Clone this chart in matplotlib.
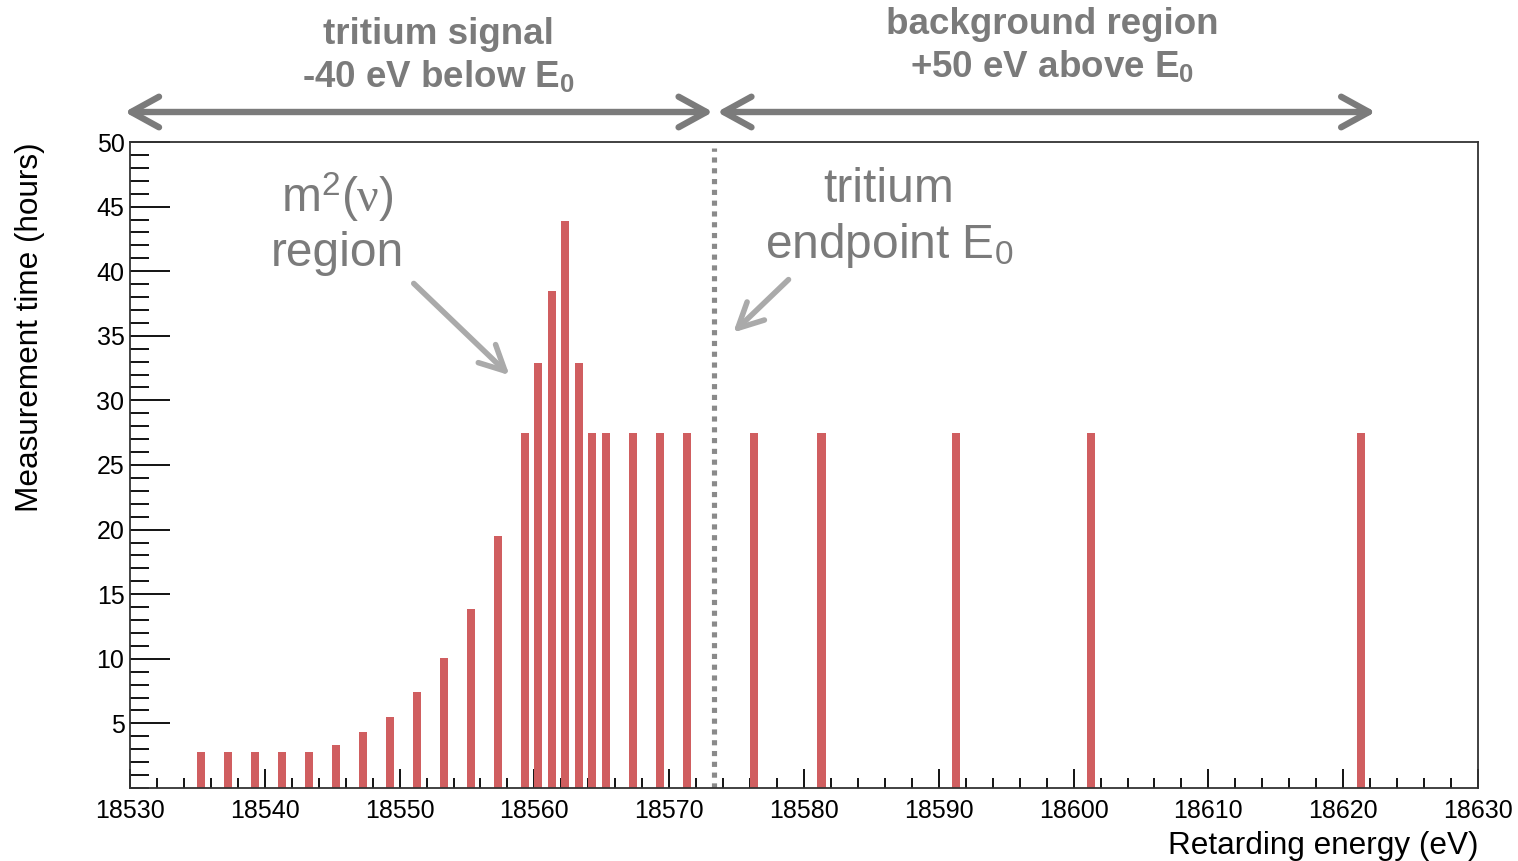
import matplotlib
matplotlib.use("Agg")
import matplotlib.pyplot as plt
from matplotlib.ticker import MultipleLocator

# Retarding energies of the scan steps (eV) and time spent at each (hours)
energies = [18535.3, 18537.3, 18539.3, 18541.3, 18543.3, 18545.3, 18547.3,
            18549.3, 18551.3, 18553.3, 18555.3, 18557.3, 18559.3, 18560.3,
            18561.3, 18562.3, 18563.3, 18564.3, 18565.3, 18567.3, 18569.3,
            18571.3, 18576.3, 18581.3, 18591.3, 18601.3, 18621.3]
hours = [2.76, 2.76, 2.76, 2.76, 2.76, 3.3, 4.3, 5.5, 7.45, 10.05, 13.85,
         19.5, 27.45, 32.9, 38.5, 43.9, 32.9, 27.45, 27.45, 27.45, 27.45,
         27.45, 27.45, 27.45, 27.45, 27.45, 27.45]
endpoint = 18573.3
y_ticks = [5, 10, 15, 20, 25, 30, 35, 40, 45, 50]

plt.rcParams['font.family'] = ['Liberation Sans', 'DejaVu Sans']
plt.rcParams['mathtext.fontset'] = 'custom'
plt.rcParams['mathtext.rm'] = 'Liberation Sans'
plt.rcParams['mathtext.it'] = 'Liberation Serif'
plt.rcParams['mathtext.bf'] = 'Liberation Sans:bold'

fig = plt.figure(figsize=(15.18, 8.61), dpi=100)
ax = fig.add_axes([130 / 1518, 1 - 788 / 861, 1348 / 1518, 646 / 861])

ax.bar(energies, hours, width=0.6, color='#D05E60', zorder=2)

ax.set_xlim(18530, 18630)
ax.set_ylim(0, 50)
ax.xaxis.set_major_locator(MultipleLocator(10))
ax.xaxis.set_minor_locator(MultipleLocator(2))
ax.set_yticks(y_ticks)
ax.yaxis.set_minor_locator(MultipleLocator(1))
ax.tick_params(axis='x', which='major', direction='in', length=14, width=1.3,
               labelsize=18, pad=8, top=False)
ax.tick_params(axis='x', which='minor', direction='in', length=7, width=1.3, top=False)
ax.tick_params(axis='y', which='major', direction='in', length=29, width=1.3,
               labelsize=18, pad=4, right=False)
ax.tick_params(axis='y', which='minor', direction='in', length=14, width=1.3, right=False)
for s in ax.spines.values():
    s.set_linewidth(1.3)
    s.set_color('#333333')

ax.set_xlabel("Retarding energy (eV)", fontsize=22.7, loc='right', labelpad=6)
ax.set_ylabel("Measurement time (hours)", fontsize=22.7, loc='top', labelpad=37)

# endpoint marker
ax.axvline(endpoint, ymin=0, ymax=0.99, color='#8a8a8a', lw=3.7,
           linestyle=(0, (1, 1.1)), zorder=1)

grey = '#7b7b7b'
light = '#aaaaaa'

# in-plot annotations
ax.text(18545.4, 45.7, "m$^2$($\\nu$)", fontsize=34.5, color=grey, ha='center', va='center')
ax.text(18545.4, 41.4, "region", fontsize=34.5, color=grey, ha='center', va='center')
ax.annotate("", xy=(18558.3, 31.8), xytext=(18550.9, 39.2),
            arrowprops=dict(arrowstyle="->,head_length=0.9,head_width=0.45",
                            color=light, lw=4, mutation_scale=20))
ax.text(18586.3, 46.3, "tritium", fontsize=34.5, color=grey, ha='center', va='center')
ax.text(18586.3, 42.0, "endpoint E$_0$", fontsize=34.5, color=grey, ha='center', va='center')
ax.annotate("", xy=(18574.6, 35.1), xytext=(18579.0, 39.5),
            arrowprops=dict(arrowstyle="->,head_length=0.9,head_width=0.45",
                            color=light, lw=4, mutation_scale=20))

# region arrows above the plot
arrow_y = (788 - 112) / 646
ax.annotate("", xy=(18529.6, arrow_y), xytext=(18573.25, arrow_y),
            xycoords=('data', 'axes fraction'), textcoords=('data', 'axes fraction'),
            arrowprops=dict(arrowstyle="<->,head_length=1.0,head_width=0.55",
                            color=grey, lw=4.6, mutation_scale=20, shrinkA=0, shrinkB=0),
            annotation_clip=False)
ax.annotate("", xy=(18573.55, arrow_y), xytext=(18622.4, arrow_y),
            xycoords=('data', 'axes fraction'), textcoords=('data', 'axes fraction'),
            arrowprops=dict(arrowstyle="<->,head_length=1.0,head_width=0.55",
                            color=grey, lw=4.6, mutation_scale=20, shrinkA=0, shrinkB=0),
            annotation_clip=False)

top_size = 26.5
fig.text(438 / 1518, 1 - 35 / 861, "tritium signal", fontsize=top_size, fontweight='bold',
         color=grey, ha='center', va='center')
fig.text(438 / 1518, 1 - 77 / 861, "-40 eV below E$_\\mathbf{0}$", fontsize=top_size,
         fontweight='bold', color=grey, ha='center', va='center')
fig.text(1052 / 1518, 1 - 25 / 861, "background region", fontsize=top_size, fontweight='bold',
         color=grey, ha='center', va='center')
fig.text(1052 / 1518, 1 - 67 / 861, "+50 eV above E$_\\mathbf{0}$", fontsize=top_size,
         fontweight='bold', color=grey, ha='center', va='center')

fig.savefig("out.png", dpi=100)
